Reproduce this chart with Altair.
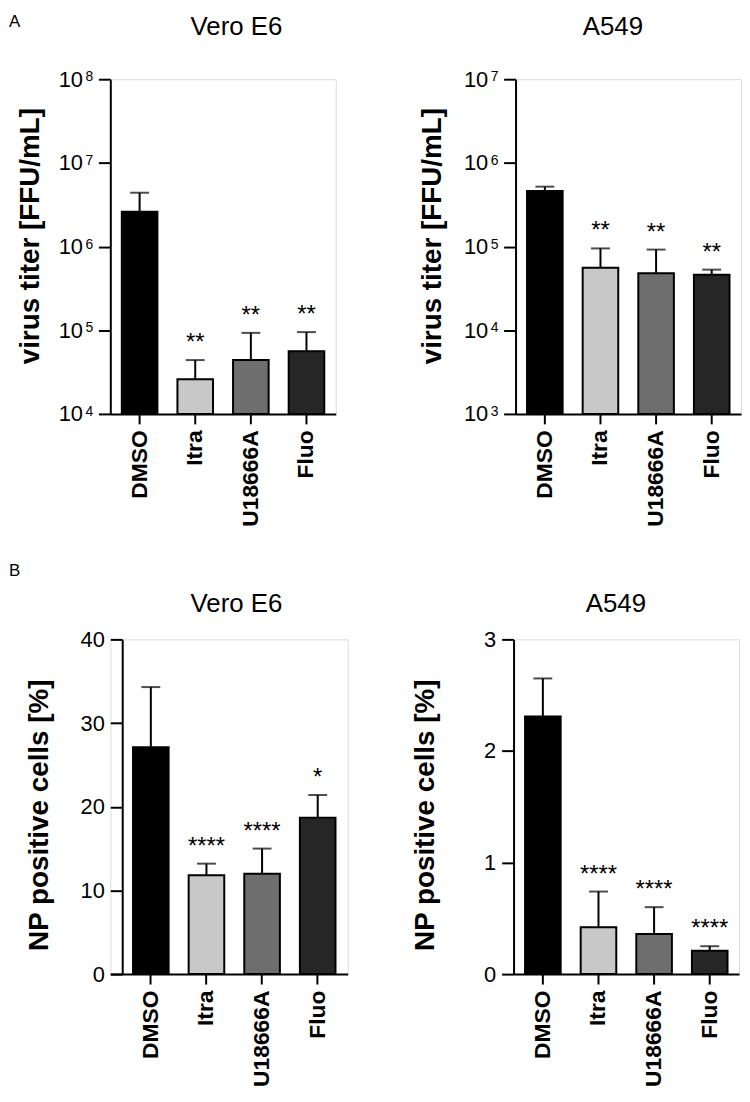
import math
import altair as alt
import pandas as pd

categories = ["DMSO", "Itra", "U18666A", "Fluo"]
bar_colors = ["#000000", "#c8c8c8", "#6e6e6e", "#262626"]

vero_titer_mean = [2.6e6, 2.6e4, 4.4e4, 5.6e4]
vero_titer_upper = [4.4e6, 4.4e4, 9.3e4, 9.5e4]
vero_titer_sig = ["", "**", "**", "**"]

a549_titer_mean = [4.6e5, 5.6e4, 4.8e4, 4.6e4]
a549_titer_upper = [5.2e5, 9.5e4, 9.2e4, 5.3e4]
a549_titer_sig = ["", "**", "**", "**"]

vero_np_mean = [27.1, 11.8, 12.0, 18.7]
vero_np_upper = [34.3, 13.2, 15.0, 21.4]
vero_np_sig = ["", "****", "****", "*"]

a549_np_mean = [2.31, 0.42, 0.36, 0.21]
a549_np_upper = [2.65, 0.74, 0.60, 0.25]
a549_np_sig = ["", "****", "****", "****"]

titer_ticks_vero = [1e4, 1e5, 1e6, 1e7, 1e8]
titer_ticks_a549 = [1e3, 1e4, 1e5, 1e6, 1e7]
np_ticks_vero = [0, 10, 20, 30, 40]
np_ticks_a549 = [0, 1, 2, 3]

FONT = "Liberation Sans"
H = 337


def label_chart(text, **mark_kw):
    return alt.Chart(pd.DataFrame({"t": [text]})).mark_text(
        font=FONT, color="black", **mark_kw)


def panel(mean, upper, sig, ticks, log, ytitle, ytitle_x, ytitle_y, title_text, title_x,
          title_y, letter=None, letter_y=None, width=227, yaxis_offset=0, band_align=0.5):
    df = pd.DataFrame({"cat": categories, "mean": mean, "upper": upper, "sig": sig})
    domain = [ticks[0], ticks[-1]]
    step = 56.0
    p_in = 0.36
    p_out = (width / step - (len(categories) - p_in)) / 2
    xscale = alt.Scale(paddingInner=p_in, paddingOuter=p_out, align=band_align)
    x = alt.X("cat:N", sort=categories, scale=xscale,
              axis=alt.Axis(title=None, labelAngle=-90, labelFontSize=23, labelFontWeight="bold",
                            labelFont=FONT, tickSize=10, tickWidth=2, domainWidth=2,
                            labelPadding=6, domainColor="black", tickColor="black",
                            labelColor="black"))
    axis_kw = dict(values=ticks, title=None,
                   labelFontSize=22, labelFont=FONT, labelColor="black", tickSize=12,
                   tickWidth=2, domainWidth=2, domainColor="black", tickColor="black",
                   grid=False, offset=yaxis_offset)
    if log:
        axis_kw["labelExpr"] = "'10'"
        axis_kw["labelPadding"] = 16
    else:
        axis_kw["format"] = "d"
        axis_kw["labelPadding"] = 6
    yscale = alt.Scale(type="log" if log else "linear", domain=domain, nice=False)
    base = alt.Chart(df)
    xc = alt.X("cat:N", sort=categories)
    bars = base.mark_bar(stroke="black", strokeWidth=2).encode(
        x=x,
        y=alt.Y("mean:Q", scale=yscale, axis=alt.Axis(**axis_kw)),
        y2=alt.datum(domain[0]),
        fill=alt.Fill("cat:N", scale=alt.Scale(domain=categories, range=bar_colors), legend=None),
    )
    err = base.mark_rule(color="black", strokeWidth=2).encode(x=xc, y="mean:Q", y2="upper:Q")
    cap = base.mark_tick(color="black", thickness=2, size=19).encode(x=xc, y="upper:Q")
    stars = base.mark_text(fontSize=24, font=FONT, baseline="alphabetic", dy=-10,
                           color="black").encode(x=xc, y="upper:Q", text="sig:N")
    title = label_chart(title_text, fontSize=26, baseline="top", align="center").encode(
        x=alt.value(title_x), y=alt.value(title_y), text="t:N")
    ytitle_mark = label_chart(ytitle, fontSize=28, fontWeight="bold", angle=270,
                              baseline="alphabetic", align="center").encode(
        x=alt.value(ytitle_x), y=alt.value(ytitle_y), text="t:N")
    layers = [bars, err, cap, stars, title, ytitle_mark]
    if log:
        exp_df = pd.DataFrame({"tick": ticks,
                               "e": [str(int(round(math.log10(t)))) for t in ticks]})
        exps = alt.Chart(exp_df).mark_text(
            fontSize=14, font=FONT, baseline="alphabetic", align="left", dy=2, color="black"
        ).encode(x=alt.value(-25), y="tick:Q", text="e:N")
        layers.append(exps)
    if letter:
        lt = label_chart(letter, fontSize=17, baseline="top", align="left").encode(
            x=alt.value(-102), y=alt.value(letter_y), text="t:N")
        layers.append(lt)
    return alt.layer(*layers).properties(width=width, height=H)


p1 = panel(vero_titer_mean, vero_titer_upper, vero_titer_sig, titer_ticks_vero, True,
           "virus titer [FFU/mL]", -72, 158, "Vero E6", 127, -66, "A", -66)
p2 = panel(a549_titer_mean, a549_titer_upper, a549_titer_sig, titer_ticks_a549, True,
           "virus titer [FFU/mL]", -75, 158, "A549", 98, -66)
p3 = panel(vero_np_mean, vero_np_upper, vero_np_sig, np_ticks_vero, False,
           "NP positive cells [%]", -63, 177, "Vero E6", 127, -49, "B", -77,
           width=239, yaxis_offset=-12, band_align=0.651)
p4 = panel(a549_np_mean, a549_np_upper, a549_np_sig, np_ticks_a549, False,
           "NP positive cells [%]", -80, 177, "A549", 103, -49)

top = alt.hconcat(p1, p2, spacing=82)
bottom = alt.hconcat(p3, p4, spacing=63)
chart = alt.vconcat(top, bottom, spacing=34).properties(
    padding=0).configure_view(stroke=None).configure(font=FONT)

chart.save("out.html", embed_options={"renderer": "svg", "actions": False})
